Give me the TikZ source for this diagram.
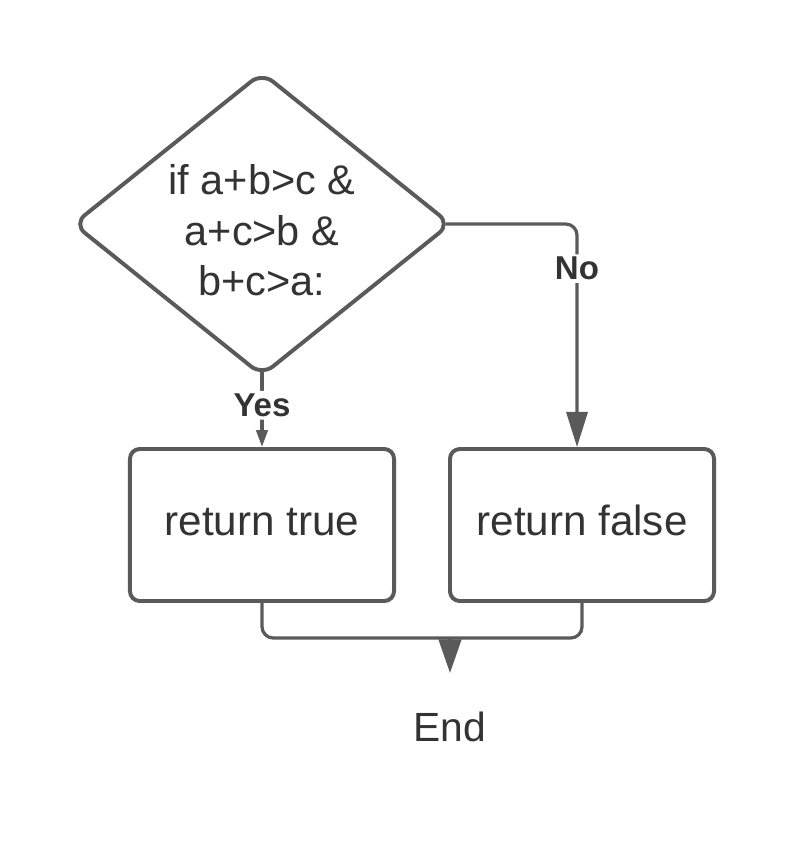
\documentclass[tikz,border=0pt]{standalone}
\usepackage{fontspec}
\setmainfont{Liberation Sans}
\usetikzlibrary{shapes.geometric,arrows.meta,positioning}
\definecolor{linegray}{HTML}{5A5A5A}
\definecolor{textgray}{HTML}{333333}
\tikzset{>={Triangle[length=12pt,width=8pt]}}
\tikzset{
  decision/.style={diamond, draw=linegray, line width=2.8pt, rounded corners=10pt,
    minimum width=9.45cm, minimum height=7.6cm, inner sep=0pt,
    text=textgray, font=\fontsize{29.5}{36}\selectfont},
  process/.style={rectangle, draw=linegray, line width=2.8pt, rounded corners=7pt,
    minimum width=6.6cm, minimum height=3.8cm, text height=21.6pt, text depth=7pt,
    text=textgray, font=\fontsize{30}{36}\selectfont},
  terminal/.style={text=textgray, font=\fontsize{29}{35}\selectfont},
  flow/.style={draw=linegray, line width=2.3pt, rounded corners=8pt},
  lbl/.style={fill=white, text=textgray, font=\bfseries\fontsize{23.5}{28}\selectfont, inner sep=2pt},
}
\begin{document}
\begin{tikzpicture}[x=0.025cm, y=0.025cm]
          \useasboundingbox (0,0) rectangle (788,-863);

          \node[decision] (check) at (262,-224)
            {\raisebox{-14pt}[0pt][0pt]{\begin{tabular}{@{}c@{}}if a+b>c \&\\ a+c>b \&\\ b+c>a:\end{tabular}}};
          \node[process] (rtrue) at (262,-525) {return true};
          \node[process, right=1.3cm of rtrue] (rfalse) {return false};
          \coordinate (join) at (450,-638);
          \coordinate (jointip) at (450,-673);
          \node[terminal] (end) at (450,-727) {End};

          \path[flow,->] ([yshift=5pt]check.south) -- node[lbl, pos=0.45] {Yes} (rtrue.north);
          \path[flow,-{Triangle[length=25pt,width=15pt]}] ([xshift=-5pt]check.east) -| node[lbl, pos=0.6] {No} ([xshift=-0.125cm]rfalse.north);
          \path[flow] (rtrue.south) |- (join) -| (rfalse.south);
          \path[flow,-{Triangle[length=24pt,width=16pt]}] (join) -- (jointip);
        \end{tikzpicture}
\end{document}
